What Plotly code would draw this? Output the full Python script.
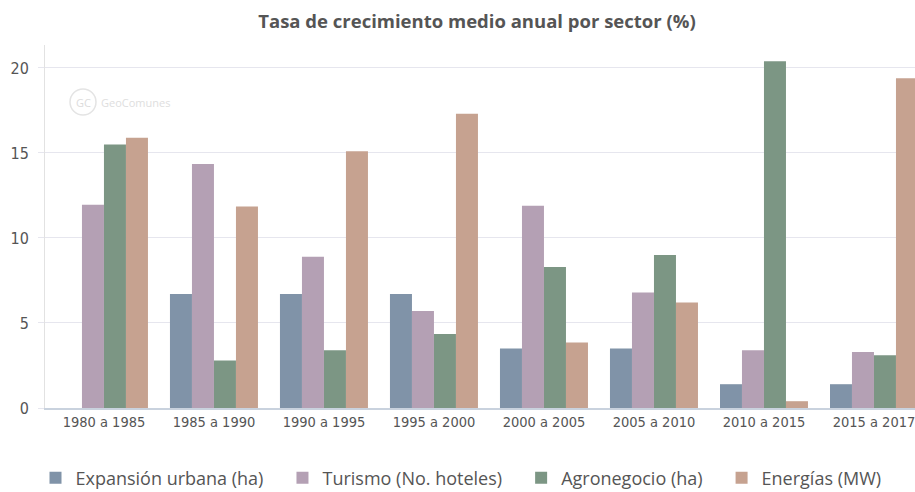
import plotly.graph_objects as go

categories = ["1980 a 1985", "1985 a 1990", "1990 a 1995", "1995 a 2000",
              "2000 a 2005", "2005 a 2010", "2010 a 2015", "2015 a 2017"]
expansion_urbana = [0, 6.7, 6.7, 6.7, 3.5, 3.5, 1.4, 1.4]
turismo = [11.95, 14.35, 8.9, 5.7, 11.9, 6.8, 3.4, 3.3]
agronegocio = [15.5, 2.8, 3.4, 4.35, 8.3, 9.0, 20.4, 3.1]
energias = [15.9, 11.85, 15.1, 17.3, 3.85, 6.2, 0.4, 19.4]

series_names = ["Expansión urbana (ha)", "Turismo (No. hoteles)",
                "Agronegocio (ha)", "Energías (MW)"]
series_values = [expansion_urbana, turismo, agronegocio, energias]
colors = ["#8093a8", "#b4a0b4", "#7c9684", "#c6a290"]

title_text = "Tasa de crecimiento medio anual por sector (%)"
y_ticks = [0, 5, 10, 15, 20]

W, H = 915, 492

pad = "\u00a0\u00a0\u00a0"
fig = go.Figure()
for name, vals, col in zip(series_names, series_values, colors):
    fig.add_trace(go.Bar(x=list(range(len(categories))), y=vals, name=name + pad,
                         marker=dict(color=col, line=dict(width=0))))

xtick_font = dict(family="DejaVu Sans Condensed, Roboto, sans-serif", size=14.5, color="#555555")
ytick_font = dict(family="DejaVu Sans Condensed, Roboto, sans-serif", size=16, color="#555555")

fig.update_layout(
    width=W, height=H,
    margin=dict(l=45, r=0, t=45, b=H - 408, autoexpand=False),
    paper_bgcolor="white", plot_bgcolor="white",
    barmode="group", bargap=0.2, bargroupgap=0,
    title=dict(text="<b>" + title_text + "</b>", x=477 / W, xref="container", xanchor="center",
               y=1 - 22 / H, yref="container", yanchor="middle",
               font=dict(family="Open Sans, sans-serif", size=18.5, color="#555555")),
    showlegend=True,
    legend=dict(orientation="h", x=35.5 / W, xref="container", xanchor="left",
                y=1 - 478 / H, yref="container", yanchor="middle",
                font=dict(family="Open Sans, sans-serif", size=18, color="#555555"),
                itemwidth=30, traceorder="normal"),
    xaxis=dict(tickmode="array", tickvals=list(range(len(categories))), ticktext=categories,
               range=[-0.536, 7.373], showgrid=False, zeroline=False, automargin=False,
               showline=True, linecolor="#c9d2de", linewidth=2, tickangle=0,
               ticklabeloverflow="allow", tickfont=xtick_font, ticks=""),
    yaxis=dict(range=[0, 21.35], tickvals=y_ticks, showgrid=True, gridcolor="#e6e6ee",
               gridwidth=1, zeroline=False, showline=True, linecolor="#e2e2e2", linewidth=1,
               ticks="outside", ticklen=6, tickcolor="#e6e6ee", automargin=False,
               ticklabelstandoff=6, tickfont=ytick_font),
)

# watermark
fig.add_shape(type="circle", xref="paper", yref="paper",
              x0=(70 - 45) / 870, x1=(96 - 45) / 870,
              y0=(408 - 115) / 363, y1=(408 - 89) / 363,
              line=dict(color="#e4e4e4", width=1.5))
fig.add_annotation(text="GC", xref="paper", yref="paper", x=(83 - 45) / 870, y=(408 - 102) / 363,
                   xanchor="center", yanchor="middle",
                   showarrow=False, font=dict(family="Open Sans, sans-serif", size=11, color="#dcdcdc"))
fig.add_annotation(text="GeoComunes", xref="paper", yref="paper", x=(99 - 45) / 870,
                   y=(408 - 102) / 363, xanchor="left", yanchor="middle", showarrow=False,
                   font=dict(family="Open Sans, sans-serif", size=11, color="#dedede"))

fig.write_html("out.html", config={"displayModeBar": False},
               post_script="document.body.style.margin='0';document.body.style.overflow='hidden';")
